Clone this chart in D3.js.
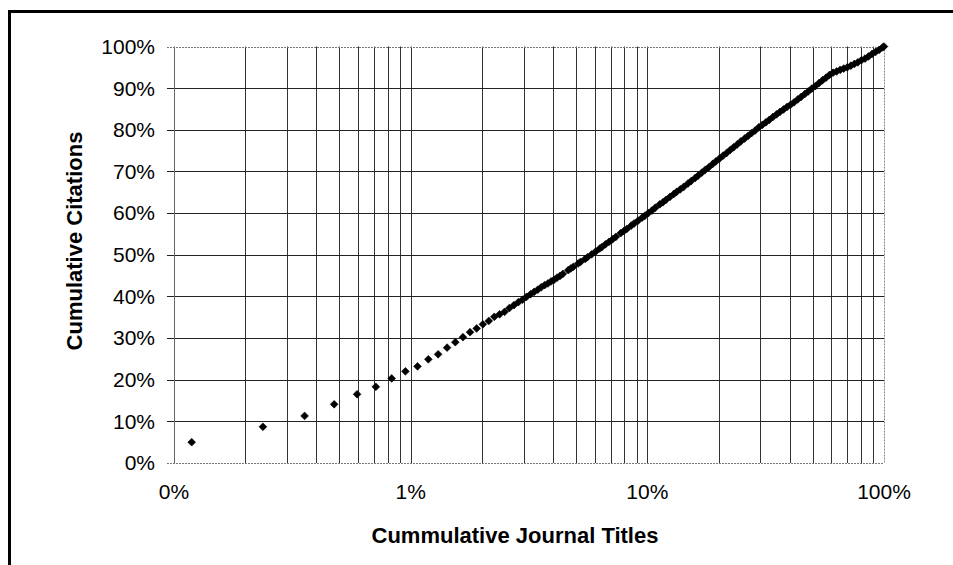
<!DOCTYPE html>
<html>
<head>
<meta charset="utf-8">
<script src="https://cdn.jsdelivr.net/npm/d3@7"></script>
<style>
  html, body { margin: 0; padding: 0; background: #fff; }
  svg { display: block; font-family: "Liberation Sans", Arial, Helvetica, sans-serif; }
</style>
</head>
<body>
<svg id="chart" width="953" height="565"></svg>
<script>
// ---- data ----
const totalJournals = 842;
const journalRank = [1,2,3,4,5,6,7,8,9,10,11,12,13,14,15,16,17,18,19,20,21,22,23,24,25,26,27,28,29,30,31,32,33,34,35,36,37,39,40,41,43,44,46,47,49,51,53,54,56,58,60,62,65,67,69,72,74,77,80,82,85,88,91,95,98,101,105,109,112,116,120,125,129,134,138,143,148,153,159,164,170,176,182,189,195,202,209,217,224,232,240,249,258,267,276,286,296,306,317,328,339,351,364,376,390,403,417,432,447,463,479,496,513,531,550,569,589,610,631,653,676,700,724,750,776,803,831,842];
const citePct = [5.0,8.7,11.3,14.1,16.5,18.3,20.3,22.0,23.2,24.9,26.1,27.7,29.0,30.2,31.4,32.3,33.3,34.1,35.1,35.7,36.3,37.2,37.9,38.6,39.2,39.9,40.5,41.1,41.6,42.2,42.7,43.1,43.6,44.0,44.5,44.9,45.4,46.3,46.7,47.1,47.9,48.3,49.0,49.4,50.1,50.8,51.5,51.8,52.5,53.1,53.7,54.3,55.2,55.7,56.2,57.0,57.5,58.2,58.9,59.3,60.0,60.6,61.3,62.1,62.6,63.2,63.9,64.6,65.1,65.7,66.3,67.1,67.7,68.4,69.0,69.7,70.4,71.0,71.8,72.4,73.1,73.8,74.4,75.2,75.8,76.5,77.2,77.9,78.5,79.2,79.8,80.6,81.2,81.8,82.4,83.1,83.7,84.3,84.9,85.5,86.0,86.6,87.3,87.9,88.6,89.2,89.9,90.5,91.2,91.9,92.5,93.2,93.7,94.0,94.4,94.7,95.0,95.4,95.8,96.2,96.7,97.1,97.6,98.2,98.7,99.2,99.8,100];
const xTickValues = [0.1, 1, 10, 100];
const xTickLabels = ["0%", "1%", "10%", "100%"];
const yTickValues = [0,10,20,30,40,50,60,70,80,90,100];
const yTickLabels = yTickValues.map(v => v + "%");
const xTitle = "Cummulative Journal Titles";
const yTitle = "Cumulative Citations";

// ---- layout ----
const svg = d3.select("#chart");
const plot = { left: 174, right: 884, top: 46.5, bottom: 463 };

const x = d3.scaleLog().domain([0.1, 100]).range([plot.left, plot.right]);
const y = d3.scaleLinear().domain([0, 100]).range([plot.bottom, plot.top]);

// outer frame (clipped on right/bottom like the reference)
svg.append("rect")
  .attr("x", 9.5).attr("y", 11.5)
  .attr("width", 1200).attr("height", 1200)
  .attr("fill", "none").attr("stroke", "#000").attr("stroke-width", 3);

// vertical grid lines (log minor ticks)
const xGridVals = x.ticks().filter(v => v > 0.1 + 1e-9 && v < 100 - 1e-9);
svg.append("g").selectAll("line").data(xGridVals).join("line")
  .attr("x1", d => Math.round(x(d)) + 0.5).attr("x2", d => Math.round(x(d)) + 0.5)
  .attr("y1", plot.top).attr("y2", plot.bottom)
  .attr("stroke", "#333").attr("stroke-width", 1);

// horizontal grid lines + left ticks
const yInner = yTickValues.filter(v => v > 0 && v < 100);
svg.append("g").selectAll("line").data(yInner).join("line")
  .attr("x1", plot.left - 7).attr("x2", plot.right)
  .attr("y1", d => Math.round(y(d)) + 0.5).attr("y2", d => Math.round(y(d)) + 0.5)
  .attr("stroke", "#222").attr("stroke-width", 1);

// plot area edges
svg.append("line").attr("x1", plot.left + 0.5).attr("x2", plot.left + 0.5)
  .attr("y1", plot.top).attr("y2", plot.bottom).attr("stroke", "#666");
svg.append("g").selectAll("line").data([0, 100]).join("line")
  .attr("x1", plot.left - 7).attr("x2", plot.right)
  .attr("y1", d => Math.round(y(d)) + 0.5).attr("y2", d => Math.round(y(d)) + 0.5)
  .attr("stroke", "#777").attr("stroke-dasharray", "2,1");
svg.append("line").attr("x1", plot.right + 0.5).attr("x2", plot.right + 0.5)
  .attr("y1", plot.top).attr("y2", plot.bottom)
  .attr("stroke", "#888").attr("stroke-dasharray", "2,1");

// y tick labels
svg.append("g").selectAll("text").data(yTickValues).join("text")
  .attr("x", 155).attr("y", d => y(d)).attr("dy", "0.35em")
  .attr("text-anchor", "end").attr("font-size", 21).attr("fill", "#000")
  .text((d, i) => yTickLabels[i]);

// x tick labels
svg.append("g").selectAll("text").data(xTickValues).join("text")
  .attr("x", d => x(d)).attr("y", 499)
  .attr("text-anchor", "middle").attr("font-size", 21).attr("fill", "#000")
  .text((d, i) => xTickLabels[i]);

// axis titles
svg.append("text").attr("x", 515).attr("y", 543)
  .attr("text-anchor", "middle").attr("font-size", 22).attr("font-weight", "bold")
  .text(xTitle);
svg.append("text").attr("transform", "translate(82,241) rotate(-90)")
  .attr("text-anchor", "middle").attr("font-size", 22).attr("font-weight", "bold")
  .text(yTitle);

// data points (diamonds)
const points = journalRank.map((r, i) => ({ xp: r / totalJournals * 100, yp: citePct[i] }));
const diamond = d3.symbol().type(d3.symbolSquare).size(30);
svg.append("g").selectAll("path").data(points).join("path")
  .attr("d", diamond)
  .attr("transform", d => `translate(${x(d.xp)},${y(d.yp)}) rotate(45)`)
  .attr("fill", "#000").attr("stroke", "#000").attr("stroke-width", 0.6);
</script>
</body>
</html>
